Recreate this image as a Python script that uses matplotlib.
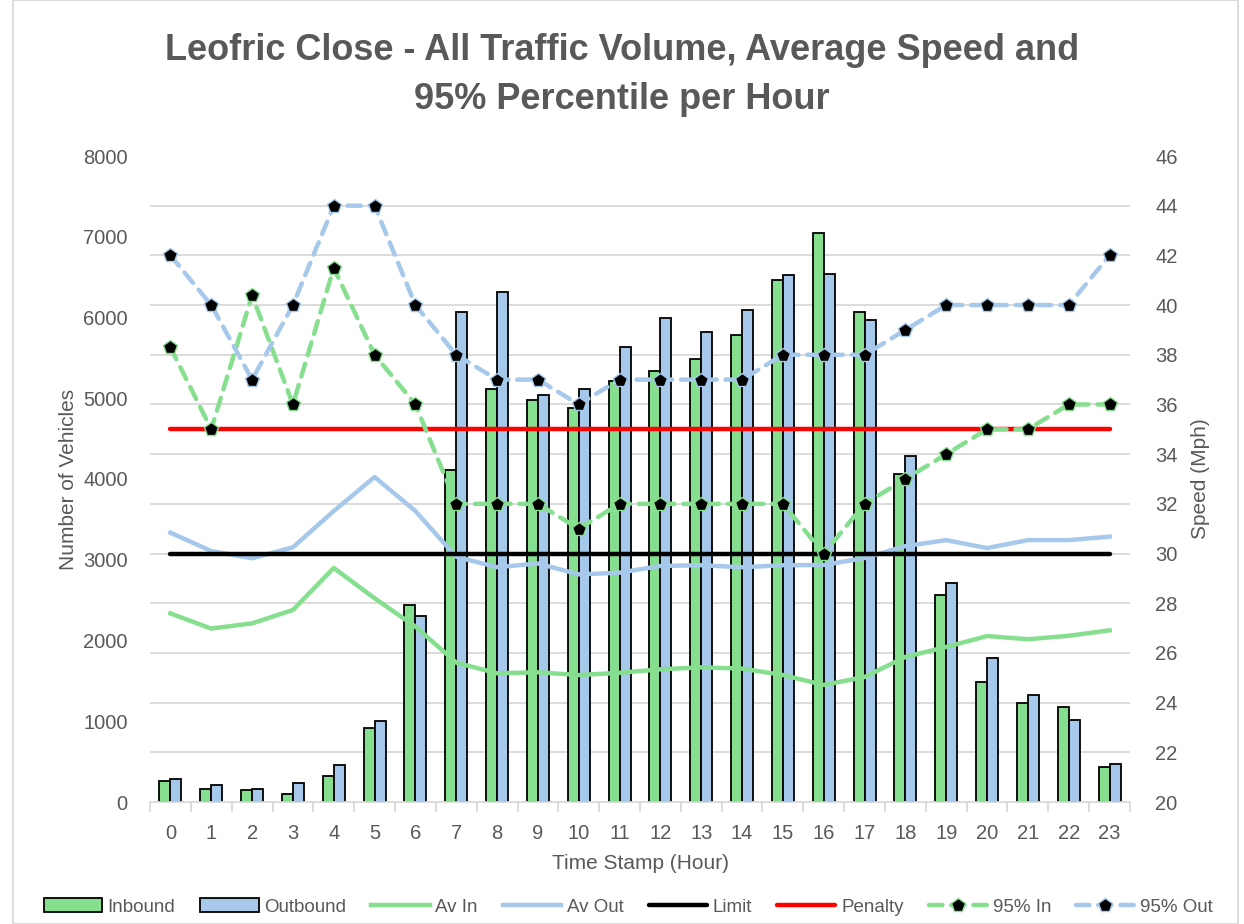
import numpy as np
import matplotlib
matplotlib.use("Agg")
import matplotlib.pyplot as plt
from matplotlib.patches import Rectangle

# Hourly counts (vehicles) and speeds (mph)
hours = list(range(24))
inbound = [264, 157, 145, 99, 322, 916, 2443, 4115, 5115, 4978, 4875, 5218,
           5337, 5486, 5783, 6464, 7047, 6068, 4062, 2563, 1486, 1226, 1180, 437]
outbound = [289, 207, 161, 231, 458, 1003, 2307, 6064, 6316, 5040, 5115, 5639,
            5994, 5824, 6097, 6526, 6535, 5969, 4285, 2712, 1783, 1325, 1019, 467]
av_in = [27.59, 26.98, 27.19, 27.73, 29.42, 28.2, 27.06, 25.61, 25.18, 25.22, 25.11, 25.2,
         25.34, 25.42, 25.37, 25.11, 24.71, 25.03, 25.84, 26.24, 26.68, 26.55, 26.69, 26.91]
av_out = [30.84, 30.10, 29.81, 30.25, 31.71, 33.08, 31.71, 29.87, 29.45, 29.6, 29.16, 29.23,
          29.5, 29.53, 29.45, 29.53, 29.54, 29.82, 30.3, 30.54, 30.22, 30.54, 30.54, 30.68]
p95_in = [38.3, 35, 40.4, 36, 41.5, 38, 36, 32, 32, 32, 31, 32,
          32, 32, 32, 32, 30, 32, 33, 34, 35, 35, 36, 36]
p95_out = [42, 40, 37, 40, 44, 44, 40, 38, 37, 37, 36, 37,
           37, 37, 37, 38, 38, 38, 39, 40, 40, 40, 40, 42]
limit = [30] * 24
penalty = [35] * 24

GREEN = "#86df8e"
BLUE = "#a6c8ea"
GREY = "#595959"

plt.rcParams['font.family'] = ['Liberation Sans', 'DejaVu Sans']

fig = plt.figure(figsize=(12.44, 9.24), dpi=100)
ax = fig.add_axes([150 / 1244, 122 / 924, 980 / 1244, 646 / 924])
ax2 = ax.twinx()
ax2.set_zorder(ax.get_zorder() + 1)
ax2.patch.set_visible(False)

x = np.arange(len(hours))
w = 0.27
ax.bar(x - w / 2, inbound, w, color=GREEN, edgecolor="black", linewidth=1.3, label="Inbound")
ax.bar(x + w / 2, outbound, w, color=BLUE, edgecolor="black", linewidth=1.3, label="Outbound")

ax.set_xlim(-0.5, 23.5)
ax.set_ylim(0, 8000)
ax2.set_ylim(20, 46)

# gridlines follow the speed axis ticks
speed_ticks = np.arange(20, 47, 2)
ax.set_yticks(np.arange(0, 8001, 1000))
ax.set_yticks((speed_ticks - 20) / 26 * 8000, minor=True)
ax.yaxis.grid(True, which="minor", color="#d9d9d9", linewidth=1.3)
ax.yaxis.grid(False, which="major")
ax.set_axisbelow(True)
ax.tick_params(axis="y", which="both", length=0, labelsize=14.5, labelcolor=GREY, pad=16)

ax2.set_yticks(speed_ticks)
ax2.tick_params(axis="y", length=0, labelsize=14.5, labelcolor=GREY, pad=18)

ax.set_xticks(x)
ax.set_xticks(np.arange(-0.5, 24, 1), minor=True)
ax.tick_params(axis="x", which="major", length=0, labelsize=14.5, labelcolor=GREY, pad=16)
ax.tick_params(axis="x", which="minor", length=7, color="#d9d9d9", width=1.3)

for a in (ax, ax2):
    for s in a.spines.values():
        s.set_visible(False)
ax.spines["bottom"].set_visible(True)
ax.spines["bottom"].set_color("#d9d9d9")
ax.spines["bottom"].set_linewidth(1.3)

ax2.plot(x, av_in, color=GREEN, lw=3.2, label="Av In")
ax2.plot(x, av_out, color=BLUE, lw=3.2, label="Av Out")
ax2.plot(x, limit, color="black", lw=3.2, solid_capstyle="round", label="Limit")
ax2.plot(x, penalty, color="red", lw=3.2, solid_capstyle="round", label="Penalty")
ax2.plot(x, p95_in, color=GREEN, lw=3.2, ls=(0, (3, 2)), marker="p", ms=10.5,
         mfc="black", mec=GREEN, mew=1, dash_capstyle="round", label="95% In")
ax2.plot(x, p95_out, color=BLUE, lw=3.2, ls=(0, (3, 2)), marker="p", ms=10.5,
         mfc="black", mec=BLUE, mew=1, dash_capstyle="round", label="95% Out")

ax.set_ylabel("Number of Vehicles", fontsize=15, color=GREY, labelpad=4)
ax2.set_ylabel("Speed (Mph)", fontsize=15, color=GREY, rotation=90, labelpad=10)
ax.set_xlabel("Time Stamp (Hour)", fontsize=15, color=GREY, labelpad=8)

fig.text(0.5, 1 - 75 / 924, "Leofric Close - All Traffic Volume, Average Speed and\n95% Percentile per Hour",
         ha="center", va="center", fontsize=26, fontweight="bold", color=GREY, linespacing=1.55)

h1, l1 = ax.get_legend_handles_labels()
h2, l2 = ax2.get_legend_handles_labels()
leg = fig.legend(h1 + h2, l1 + l2, loc="center", bbox_to_anchor=(0.505, 17 / 924), ncol=8,
                 frameon=False, fontsize=13.5, handlelength=3.1, columnspacing=1.35,
                 handletextpad=0.3, labelcolor=GREY)

fig.patches.append(Rectangle((13 / 1244, 0), 1225 / 1244, 1, transform=fig.transFigure,
                             fill=False, edgecolor="#d9d9d9", linewidth=1.3))

fig.savefig("out.png", dpi=100)
